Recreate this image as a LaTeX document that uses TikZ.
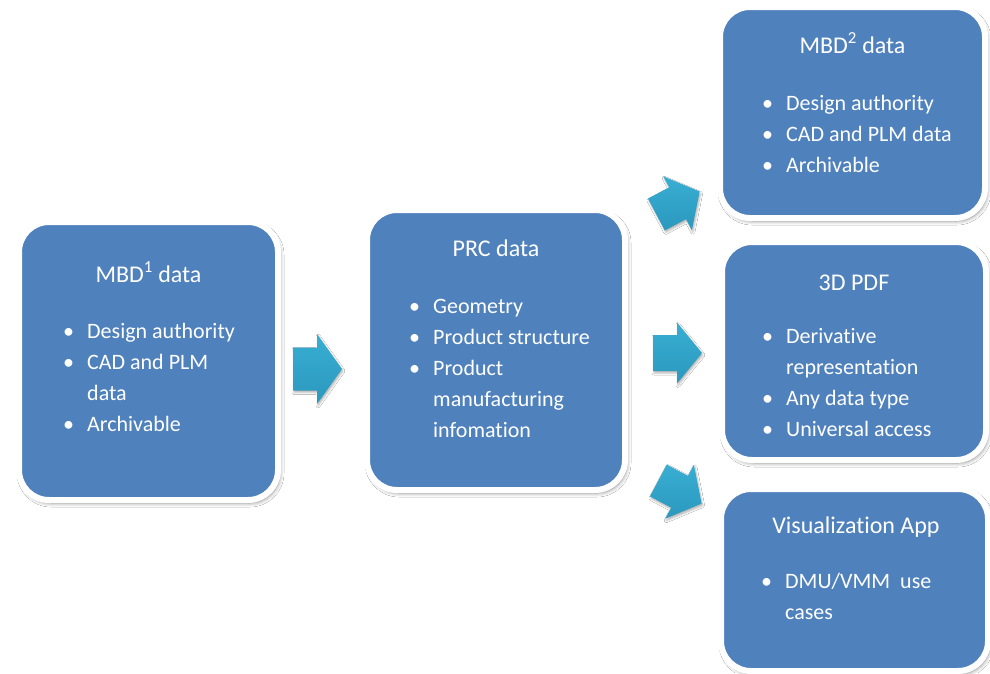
\documentclass[tikz,border=0pt]{standalone}
\usepackage{fontspec}
\setmainfont{Carlito}[Ligatures={NoCommon,NoContextual},RawFeature={-calt;-liga;-dlig}]
\usetikzlibrary{shadows.blur}
\definecolor{boxblue}{HTML}{4F81BD}
\definecolor{arrtop}{HTML}{38AED2}
\definecolor{arrbot}{HTML}{2C98BE}
\tikzset{
 panel/.style={rounded corners=30pt, fill=boxblue, draw=white, line width=6pt,
   blur shadow={shadow xshift=2pt, shadow yshift=-3pt, shadow blur steps=6, shadow opacity=45, shadow blur radius=4pt}},
 ptitle/.style={text=white, font=\fontsize{24}{29}\selectfont, anchor=base, inner sep=0pt},
 plist/.style={text=white, anchor=base west, inner sep=0pt},
 blockarrow/.style={top color=arrtop, bottom color=arrbot, draw=none,
   blur shadow={shadow xshift=1pt, shadow yshift=-2pt, shadow blur steps=4, shadow opacity=30, shadow blur radius=2pt}},
}
\newcommand{\itm}[1]{\makebox[24pt][l]{\textbullet}#1}
\newcommand{\cnt}[1]{\hspace*{24pt}#1}
\newcommand{\blist}[1]{\parbox[t]{250pt}{\fontsize{22}{31}\selectfont #1}}
\begin{document}
\begin{tikzpicture}[x=1pt,y=-1pt]
\useasboundingbox (0,0) rectangle (990,673);
\fill[white] (0,0) rectangle (990,673);
% panels
\node[panel, minimum width=259pt, minimum height=278pt] (mbdA) at (148.5,361) {};
\node[panel, minimum width=258pt, minimum height=280pt] (prc) at (496,350) {};
\node[panel, minimum width=265pt, minimum height=211pt] (mbdB) at (852.5,112.5) {};
\node[panel, minimum width=264pt, minimum height=218pt] (pdf) at (854,351) {};
\node[panel, minimum width=267pt, minimum height=182pt] (vis) at (854.5,580) {};
% titles
\node[ptitle] (tA) at (148.5,282) {MBD\textsuperscript{1} data};
\node[ptitle] (tP) at (496,256) {PRC data};
\node[ptitle] (tB) at (852.5,53) {MBD\textsuperscript{2} data};
\node[ptitle] (tD) at (854,290) {3D PDF};
\node[ptitle] (tV) at (856,533) {Visualizat\kern0pt ion App};
% lists
\node[plist] (lA) at (63,338) {\blist{\itm{Design authority}\\\itm{CAD and PLM}\\\cnt{data}\\\itm{Archivable}}};
\node[plist] (lP) at (409,313) {\blist{\itm{Geometry}\\\itm{Product structure}\\\itm{Product}\\\cnt{manufacturing}\\\cnt{infomat\kern0pt ion}}};
\node[plist] (lB) at (762,110) {\blist{\itm{Design authority}\\\itm{CAD and PLM data}\\\itm{Archivable}}};
\node[plist] (lD) at (762,343) {\blist{\itm{Derivat\kern0pt ive}\\\cnt{representat\kern0pt ion}\\\itm{Any data type}\\\itm{Universal access}}};
\node[plist] (lV) at (761,588) {\blist{\itm{DMU/VMM\ \ use}\\\cnt{cases}}};
% block arrows
\begin{scope}[shift={(317,369)}]
\path[blockarrow] (-24,-21.5) -- (0,-21.5) -- (0,-35) -- (25,0) -- (0,35) -- (0,21.5) -- (-24,21.5) -- cycle;
\end{scope}
\begin{scope}[shift={(677,353)}]
\path[blockarrow] (-24,-18) -- (0,-18) -- (0,-30.5) -- (25,0) -- (0,30.5) -- (0,18) -- (-24,18) -- cycle;
\end{scope}
\begin{scope}[shift={(678,203)}, rotate=28]
\path[blockarrow] (-24.5,-18) -- (-0.5,-18) -- (-0.5,-30.5) -- (24.5,0) -- (-0.5,30.5) -- (-0.5,18) -- (-24.5,18) -- cycle;
\end{scope}
\begin{scope}[shift={(680,492)}, rotate=-28]
\path[blockarrow] (-24.5,-18) -- (-0.5,-18) -- (-0.5,-30.5) -- (24.5,0) -- (-0.5,30.5) -- (-0.5,18) -- (-24.5,18) -- cycle;
\end{scope}
\end{tikzpicture}
\end{document}
